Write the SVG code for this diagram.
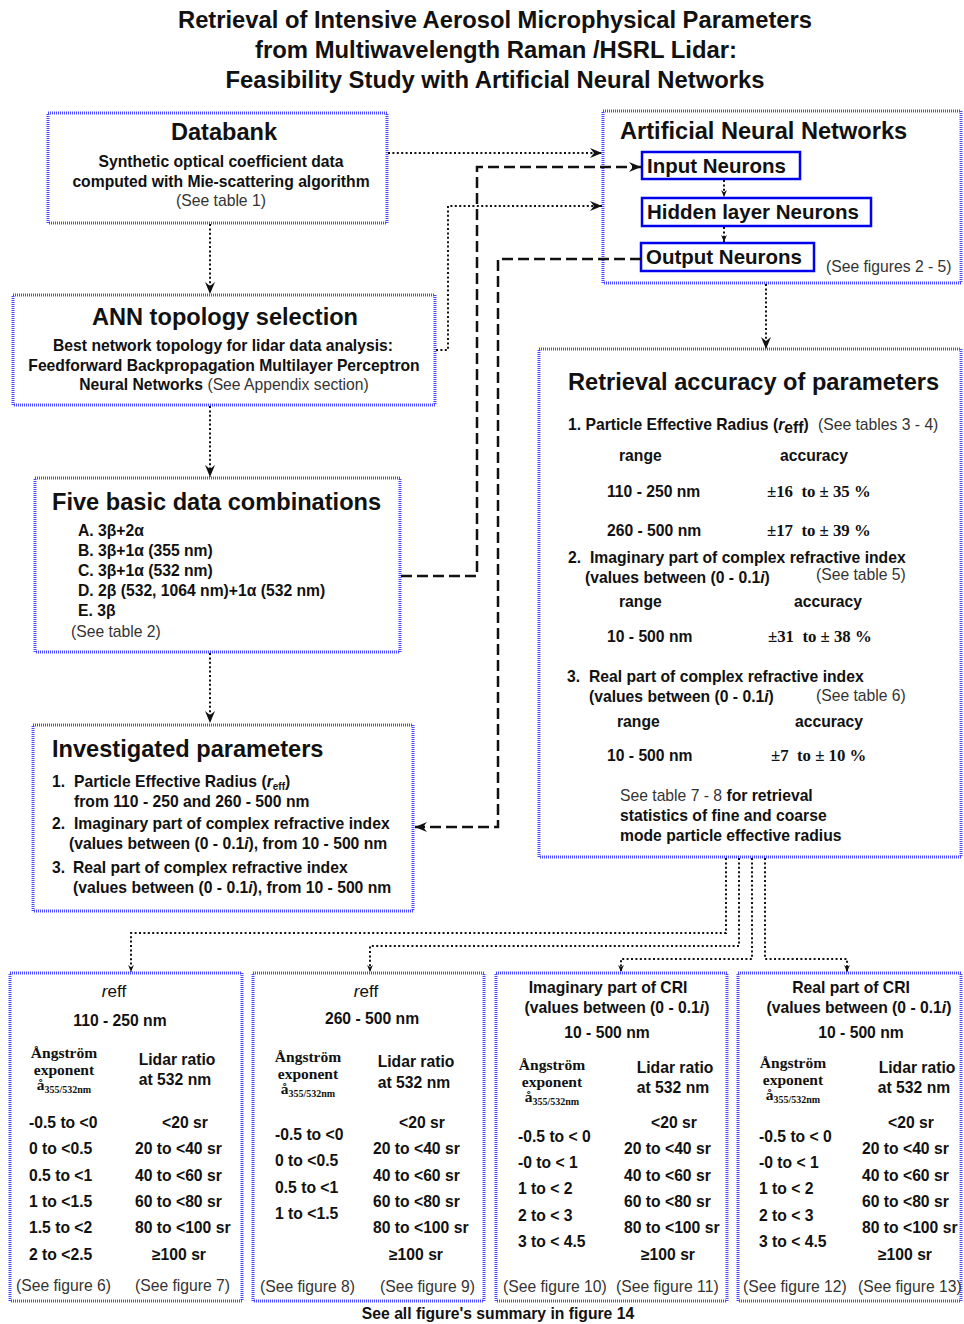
<svg xmlns="http://www.w3.org/2000/svg" width="964" height="1324" viewBox="0 0 964 1324">
<style>
text{font-family:"Liberation Sans",Arial,sans-serif;fill:#111;font-size:15.7px;font-weight:bold}
.h{font-size:23.6px}
.tt{font-size:23px}
.nn{font-size:20.5px}
.re{font-size:17px;font-weight:normal}
.n{font-weight:normal;fill:#333}
.c{text-anchor:middle}
.s{font-family:"Liberation Serif","Times New Roman",serif;font-size:15.5px}
.acc{font-size:16.8px}
.sub{font-size:10px}
.box{fill:#fff;stroke:#4848ff;stroke-width:3;stroke-dasharray:1 1}
.nbox{fill:#fff;stroke:#0000ee;stroke-width:2.5}
.dot{fill:none;stroke:#111;stroke-width:2;stroke-dasharray:2 2.4}
.dash{fill:none;stroke:#111;stroke-width:2.5;stroke-dasharray:11 5}
</style>
<defs>
<marker id="ah" viewBox="0 0 12 10" refX="12" refY="5" markerWidth="12" markerHeight="10" markerUnits="userSpaceOnUse" orient="auto"><path d="M0,0 L12,5 L0,10 L4,5 z" fill="#111"/></marker>
<marker id="as" viewBox="0 0 12 10" refX="12" refY="5" markerWidth="7" markerHeight="6" markerUnits="userSpaceOnUse" orient="auto"><path d="M0,0 L12,5 L0,10 L4,5 z" fill="#111"/></marker>
</defs>
<rect width="964" height="1324" fill="#fff"/>

<g id="title">
<text class="c tt" x="495" y="28" textLength="634" lengthAdjust="spacingAndGlyphs">Retrieval of Intensive Aerosol Microphysical Parameters</text>
<text class="c tt" x="496" y="58" textLength="482" lengthAdjust="spacingAndGlyphs">from Multiwavelength Raman /HSRL Lidar:</text>
<text class="c tt" x="495" y="88" textLength="539" lengthAdjust="spacingAndGlyphs">Feasibility Study with Artificial Neural Networks</text>
</g>

<g id="databank">
<rect class="box" x="48" y="113" width="339" height="110"/>
<text class="h c" x="224" y="140">Databank</text>
<text class="c" x="221" y="167">Synthetic optical coefficient data</text>
<text class="c" x="221" y="187">computed with Mie-scattering algorithm</text>
<text class="c n" x="221" y="206">(See table 1)</text>
</g>

<g id="ann-topology">
<rect class="box" x="13" y="295" width="422" height="110"/>
<text class="h c" x="225" y="325">ANN topology selection</text>
<text class="c" x="223" y="351">Best network topology for lidar data analysis:</text>
<text class="c" x="224" y="371">Feedforward Backpropagation Multilayer Perceptron</text>
<text class="c" x="224" y="390">Neural Networks<tspan class="n"> (See Appendix section)</tspan></text>
</g>

<g id="five-combinations">
<rect class="box" x="35" y="478" width="365" height="174"/>
<text class="h" x="52" y="510">Five basic data combinations</text>
<text x="78" y="536">A. 3β+2α</text>
<text x="78" y="556">B. 3β+1α (355 nm)</text>
<text x="78" y="576">C. 3β+1α (532 nm)</text>
<text x="78" y="596">D. 2β (532, 1064 nm)+1α (532 nm)</text>
<text x="78" y="616">E. 3β</text>
<text class="n" x="71" y="637">(See table 2)</text>
</g>

<g id="investigated">
<rect class="box" x="33" y="725" width="380" height="186"/>
<text class="h" x="52" y="757">Investigated parameters</text>
<text x="52" y="787">1.</text>
<text x="74" y="787">Particle Effective Radius (<tspan font-style="italic">r</tspan><tspan class="sub" dy="3">eff</tspan><tspan dy="-3">)</tspan></text>
<text x="74" y="807">from 110 - 250 and 260 - 500 nm</text>
<text x="52" y="829">2.</text>
<text x="74" y="829">Imaginary part of complex refractive index</text>
<text x="69" y="849">(values between (0 - 0.1<tspan font-style="italic">i</tspan>), from 10 - 500 nm</text>
<text x="52" y="873">3.</text>
<text x="73" y="873">Real part of complex refractive index</text>
<text x="73" y="893">(values between (0 - 0.1<tspan font-style="italic">i</tspan>), from 10 - 500 nm</text>
</g>

<g id="ann">
<rect class="box" x="603" y="111" width="358" height="172"/>
<text class="h" x="620" y="139">Artificial Neural Networks</text>
<text class="n" x="826" y="272">(See figures 2 - 5)</text>
</g>
<g id="input-neurons">
<rect class="nbox" x="642" y="152" width="158" height="27"/>
<text class="nn" x="647" y="173">Input Neurons</text>
</g>
<g id="hidden-neurons">
<rect class="nbox" x="642" y="198" width="229" height="28"/>
<text class="nn" x="647" y="219">Hidden layer Neurons</text>
</g>
<g id="output-neurons">
<rect class="nbox" x="641" y="243" width="173" height="28"/>
<text class="nn" x="646" y="264">Output Neurons</text>
</g>

<g id="retrieval">
<rect class="box" x="539" y="349" width="422" height="508"/>
<text class="h" x="568" y="390">Retrieval accuracy of parameters</text>
<text x="568" y="430">1. Particle Effective Radius (<tspan font-style="italic">r</tspan><tspan dy="3">eff</tspan><tspan dy="-3">)</tspan></text>
<text class="n" x="818" y="430">(See tables 3 - 4)</text>
<text x="619" y="461">range</text>
<text x="780" y="461">accuracy</text>
<text x="607" y="497">110 - 250 nm</text>
<text class="s acc" x="767" y="497" xml:space="preserve">±16  to ± 35 %</text>
<text x="607" y="536">260 - 500 nm</text>
<text class="s acc" x="767" y="536" xml:space="preserve">±17  to ± 39 %</text>
<text x="568" y="563">2.</text>
<text x="590" y="563">Imaginary part of complex refractive index</text>
<text x="585" y="583">(values between (0 - 0.1<tspan font-style="italic">i</tspan>)</text>
<text class="n" x="816" y="580">(See table 5)</text>
<text x="619" y="607">range</text>
<text x="794" y="607">accuracy</text>
<text x="607" y="642">10 - 500 nm</text>
<text class="s acc" x="768" y="642" xml:space="preserve">±31  to ± 38 %</text>
<text x="567" y="682">3.</text>
<text x="589" y="682">Real part of complex refractive index</text>
<text x="589" y="702">(values between (0 - 0.1<tspan font-style="italic">i</tspan>)</text>
<text class="n" x="816" y="701">(See table 6)</text>
<text x="617" y="727">range</text>
<text x="795" y="727">accuracy</text>
<text x="607" y="761">10 - 500 nm</text>
<text class="s acc" x="771" y="761" xml:space="preserve">±7  to ± 10 %</text>
<text x="620" y="801"><tspan class="n">See table 7 - 8</tspan> for retrieval</text>
<text x="620" y="821">statistics of fine and coarse</text>
<text x="620" y="841">mode particle effective radius</text>
</g>

<g id="reff-fine">
<rect class="box" x="10" y="973" width="232" height="328"/>
<text class="c re" x="114" y="997"><tspan font-style="italic">r</tspan>eff</text>
<text class="c" x="120" y="1026">110 - 250 nm</text>
<text class="c s" x="64" y="1058">Ångström</text>
<text class="c s" x="64" y="1075">exponent</text>
<text class="c s" x="64" y="1090">å<tspan class="sub" dy="3">355/532nm</tspan></text>
<text class="c" x="177" y="1065">Lidar ratio</text>
<text class="c" x="175" y="1085">at 532 nm</text>
<text x="29" y="1128">-0.5 to &lt;0</text>
<text x="29" y="1154">0 to &lt;0.5</text>
<text x="29" y="1181">0.5 to &lt;1</text>
<text x="29" y="1207">1 to &lt;1.5</text>
<text x="29" y="1233">1.5 to &lt;2</text>
<text x="29" y="1260">2 to &lt;2.5</text>
<text x="162" y="1128">&lt;20 sr</text>
<text x="135" y="1154">20 to &lt;40 sr</text>
<text x="135" y="1181">40 to &lt;60 sr</text>
<text x="135" y="1207">60 to &lt;80 sr</text>
<text x="135" y="1233">80 to &lt;100 sr</text>
<text x="152" y="1260">≥100 sr</text>
<text class="n" x="16" y="1291">(See figure 6)</text>
<text class="n" x="135" y="1291">(See figure 7)</text>
</g>

<g id="reff-coarse">
<rect class="box" x="253" y="973" width="231" height="328"/>
<text class="c re" x="366" y="997"><tspan font-style="italic">r</tspan>eff</text>
<text class="c" x="372" y="1024">260 - 500 nm</text>
<text class="c s" x="308" y="1062">Ångström</text>
<text class="c s" x="308" y="1079">exponent</text>
<text class="c s" x="308" y="1094">å<tspan class="sub" dy="3">355/532nm</tspan></text>
<text class="c" x="416" y="1067">Lidar ratio</text>
<text class="c" x="414" y="1088">at 532 nm</text>
<text x="275" y="1140">-0.5 to &lt;0</text>
<text x="275" y="1166">0 to &lt;0.5</text>
<text x="275" y="1193">0.5 to &lt;1</text>
<text x="275" y="1219">1 to &lt;1.5</text>
<text x="399" y="1128">&lt;20 sr</text>
<text x="373" y="1154">20 to &lt;40 sr</text>
<text x="373" y="1181">40 to &lt;60 sr</text>
<text x="373" y="1207">60 to &lt;80 sr</text>
<text x="373" y="1233">80 to &lt;100 sr</text>
<text x="389" y="1260">≥100 sr</text>
<text class="n" x="260" y="1292">(See figure 8)</text>
<text class="n" x="380" y="1292">(See figure 9)</text>
</g>

<g id="imaginary-cri">
<rect class="box" x="496" y="973" width="231" height="328"/>
<text class="c" x="608" y="993">Imaginary part of CRI</text>
<text class="c" x="617" y="1013">(values between (0 - 0.1<tspan font-style="italic">i</tspan>)</text>
<text class="c" x="607" y="1038">10 - 500 nm</text>
<text class="c s" x="552" y="1070">Ångström</text>
<text class="c s" x="552" y="1087">exponent</text>
<text class="c s" x="552" y="1102">å<tspan class="sub" dy="3">355/532nm</tspan></text>
<text class="c" x="675" y="1073">Lidar ratio</text>
<text class="c" x="673" y="1093">at 532 nm</text>
<text x="518" y="1142">-0.5 to &lt; 0</text>
<text x="518" y="1168">-0 to &lt; 1</text>
<text x="518" y="1194">1 to &lt; 2</text>
<text x="518" y="1221">2 to &lt; 3</text>
<text x="518" y="1247">3 to &lt; 4.5</text>
<text x="651" y="1128">&lt;20 sr</text>
<text x="624" y="1154">20 to &lt;40 sr</text>
<text x="624" y="1181">40 to &lt;60 sr</text>
<text x="624" y="1207">60 to &lt;80 sr</text>
<text x="624" y="1233">80 to &lt;100 sr</text>
<text x="641" y="1260">≥100 sr</text>
<text class="n" x="503" y="1292">(See figure 10)</text>
<text class="n" x="616" y="1292">(See figure 11)</text>
</g>

<g id="real-cri">
<rect class="box" x="738" y="973" width="223" height="328"/>
<text class="c" x="851" y="993">Real part of CRI</text>
<text class="c" x="859" y="1013">(values between (0 - 0.1<tspan font-style="italic">i</tspan>)</text>
<text class="c" x="861" y="1038">10 - 500 nm</text>
<text class="c s" x="793" y="1068">Ångström</text>
<text class="c s" x="793" y="1085">exponent</text>
<text class="c s" x="793" y="1100">å<tspan class="sub" dy="3">355/532nm</tspan></text>
<text class="c" x="917" y="1073">Lidar ratio</text>
<text class="c" x="914" y="1093">at 532 nm</text>
<text x="759" y="1142">-0.5 to &lt; 0</text>
<text x="759" y="1168">-0 to &lt; 1</text>
<text x="759" y="1194">1 to &lt; 2</text>
<text x="759" y="1221">2 to &lt; 3</text>
<text x="759" y="1247">3 to &lt; 4.5</text>
<text x="888" y="1128">&lt;20 sr</text>
<text x="862" y="1154">20 to &lt;40 sr</text>
<text x="862" y="1181">40 to &lt;60 sr</text>
<text x="862" y="1207">60 to &lt;80 sr</text>
<text x="862" y="1233">80 to &lt;100 sr</text>
<text x="878" y="1260">≥100 sr</text>
<text class="n" x="743" y="1292">(See figure 12)</text>
<text class="n" x="858" y="1292">(See figure 13)</text>
</g>

<g id="footer">
<text class="c" x="498" y="1319">See all figure's summary in figure 14</text>
</g>

<g id="connectors">
<path class="dot" d="M210,224 V294" marker-end="url(#ah)"/>
<path class="dot" d="M210,406 V477" marker-end="url(#ah)"/>
<path class="dot" d="M210,653 V723" marker-end="url(#ah)"/>
<path class="dot" d="M388,153 H602" marker-end="url(#ah)"/>
<path class="dot" d="M436,350 H448 V206 H602" marker-end="url(#ah)"/>
<path class="dash" d="M401,576 H477 V167 H641" marker-end="url(#ah)"/>
<path class="dash" d="M641,259 H498 V827 H415" marker-end="url(#ah)"/>
<path class="dot" d="M766,284 V349" marker-end="url(#ah)"/>
<path class="dot" d="M724,180 V197" marker-end="url(#as)"/>
<path class="dot" d="M724,227 V242" marker-end="url(#as)"/>
<path class="dot" d="M726,858 V933 H131 V972" marker-end="url(#as)"/>
<path class="dot" d="M739,858 V946 H370 V972" marker-end="url(#as)"/>
<path class="dot" d="M752,858 V959 H621 V972" marker-end="url(#as)"/>
<path class="dot" d="M765,858 V959 H847 V972" marker-end="url(#as)"/>
</g>
</svg>
